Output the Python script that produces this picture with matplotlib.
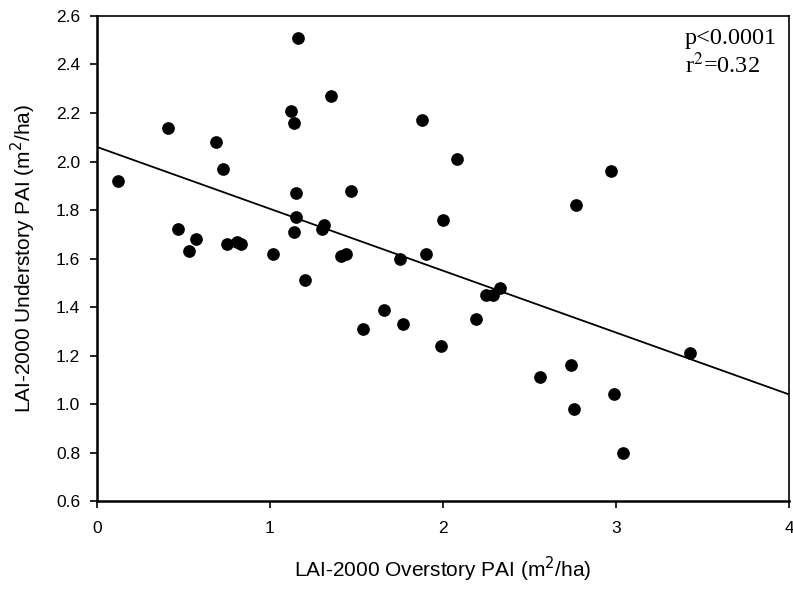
import numpy as np
import matplotlib.pyplot as plt

plt.rcParams['font.family'] = ['Liberation Sans', 'DejaVu Sans']

# overstory PAI (x) and understory PAI (y)
over = np.array([0.12, 0.41, 0.47, 0.53, 0.57, 0.69, 0.73, 0.75, 0.81, 0.83,
                 1.02, 1.12, 1.14, 1.15, 1.15, 1.14, 1.20, 1.31, 1.30, 1.47,
                 1.41, 1.44, 1.75, 1.88, 1.90, 1.54, 1.66, 1.77, 1.16, 1.35,
                 2.08, 2.97, 2.77, 2.00, 2.25, 2.29, 2.33, 2.19, 1.99, 3.43,
                 2.74, 2.56, 2.99, 2.76, 3.04])
under = np.array([1.92, 2.14, 1.72, 1.63, 1.68, 2.08, 1.97, 1.66, 1.67, 1.66,
                  1.62, 2.21, 2.16, 1.87, 1.77, 1.71, 1.51, 1.74, 1.72, 1.88,
                  1.61, 1.62, 1.60, 2.17, 1.62, 1.31, 1.39, 1.33, 2.51, 2.27,
                  2.01, 1.96, 1.82, 1.76, 1.45, 1.45, 1.48, 1.35, 1.24, 1.21,
                  1.16, 1.11, 1.04, 0.98, 0.80])

# regression line end points
line_x = [0, 4]
line_y = [2.06, 1.04]

fig = plt.figure(figsize=(7.93, 5.91), dpi=100)
ax = fig.add_axes([0.1223, 0.152, 0.8727, 0.821])

ax.scatter(over, under, s=66, c='black', zorder=3)
ax.plot(line_x, line_y, color='black', lw=1.3)

ax.set_xlim(0, 4)
ax.set_ylim(0.6, 2.6)
ax.set_xticks([0, 1, 2, 3, 4])
ax.set_yticks(np.arange(0.6, 2.61, 0.2))
ax.set_yticklabels(['%.1f' % v for v in np.arange(0.6, 2.61, 0.2)])
ax.tick_params(direction='out', length=5, width=1.2, labelsize=12.5, top=False, right=False)
ax.tick_params(axis='x', pad=9)
ax.tick_params(axis='y', pad=7)

for s in ax.spines.values():
    s.set_linewidth(1.2)
ax.spines['left'].set_linewidth(1.8)
ax.spines['bottom'].set_linewidth(1.8)

ax.set_xlabel('LAI-2000 Overstory PAI (m$^2$/ha)', fontsize=15, labelpad=14)
ax.set_ylabel('LAI-2000 Understory PAI (m$^2$/ha)', fontsize=15, labelpad=13)

ax.text(0.849, 0.975, 'p<0.0001\nr$^2$=0.32', transform=ax.transAxes,
        family='Liberation Serif', fontsize=17.5, va='top', ha='left',
        linespacing=1.15, math_fontfamily='stix')

fig.savefig('out.png', dpi=100)
